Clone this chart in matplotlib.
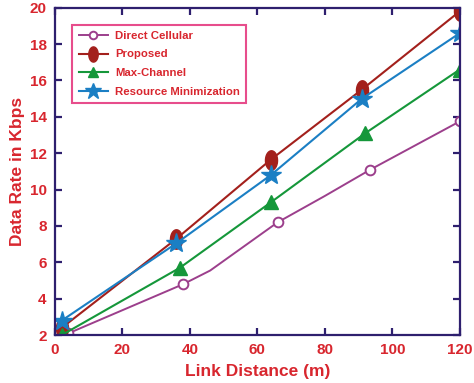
import matplotlib
matplotlib.use('Agg')
import matplotlib.pyplot as plt
import numpy as np
from matplotlib.path import Path

# Data
dist_cell = [4, 38, 46, 66, 80, 93.5, 120]
rate_cell = [2.1, 4.8, 5.55, 8.2, 9.65, 11.1, 13.75]
cell_marks = [0, 1, 3, 5, 6]

dist_prop = [2, 36, 64, 91, 120]
rate_prop = [2.4, 7.3, 11.65, 15.5, 19.8]

dist_maxch = [2, 37, 64, 92, 120]
rate_maxch = [2.0, 5.7, 9.3, 13.1, 16.6]

dist_resmin = [2, 36, 64, 91, 120]
rate_resmin = [2.8, 7.05, 10.8, 15.0, 18.6]

series_names = ['Direct Cellular', 'Proposed', 'Max-Channel', 'Resource Minimization']

red = '#d8262e'
navy = '#2e1f6e'

# tall ellipse marker for the "Proposed" series
t = np.linspace(0, 2 * np.pi, 40)
ellipse = Path(np.column_stack([0.62 * np.cos(t), np.sin(t)]), closed=True)

plt.rcParams['font.family'] = ['Liberation Sans', 'DejaVu Sans']
plt.rcParams['font.weight'] = 'bold'

fig = plt.figure(figsize=(4.74, 3.83), dpi=100)
ax = fig.add_axes([0.116, 0.125, 0.854, 0.855])

ax.plot(dist_cell, rate_cell, color='#9c3f8c', lw=1.4, marker='o', ms=7,
        mfc='white', mec='#9c3f8c', mew=1.4, markevery=cell_marks, label=series_names[0])
ax.plot(dist_prop, rate_prop, color='#a3201c', lw=1.5, marker=ellipse, ms=14,
        mfc='#a3201c', mec='#a3201c', label=series_names[1])
ax.plot(dist_maxch, rate_maxch, color='#15973a', lw=1.5, marker='^', ms=10,
        mfc='#15973a', mec='#15973a', label=series_names[2])
ax.plot(dist_resmin, rate_resmin, color='#1b7fc4', lw=1.5, marker='*', ms=15,
        mfc='#1b7fc4', mec='#1b7fc4', label=series_names[3])

ax.set_xlim(0, 120)
ax.set_ylim(2, 20)
ax.set_xticks(range(0, 121, 20))
ax.set_yticks(range(2, 21, 2))

for s in ax.spines.values():
    s.set_color(navy)
    s.set_linewidth(1.6)
ax.tick_params(direction='in', length=5, width=1.6, color=navy,
               top=True, right=True, labelsize=11, labelcolor=red, pad=6)
for lab in ax.get_xticklabels() + ax.get_yticklabels():
    lab.set_fontweight('bold')

ax.set_xlabel('Link Distance (m)', color=red, fontsize=12.5, fontweight='bold', labelpad=5)
ax.set_ylabel('Data Rate in Kbps', color=red, fontsize=12.5, fontweight='bold', labelpad=3)

leg = ax.legend(loc='upper left', bbox_to_anchor=(0.043, 0.948), fontsize=8.2,
                fancybox=False, handlelength=2.6, borderpad=0.55, labelspacing=0.75,
                handletextpad=0.6, borderaxespad=0, markerscale=0.78)
leg.get_frame().set_edgecolor('#e2206f')
leg.get_frame().set_linewidth(1.5)
for txt in leg.get_texts():
    txt.set_color(red)
    txt.set_fontweight('bold')

fig.savefig('out.png', dpi=100)
